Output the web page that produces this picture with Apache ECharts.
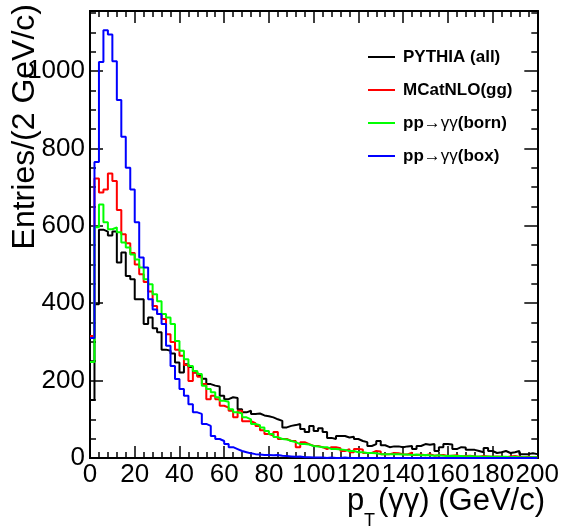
<!DOCTYPE html>
<html><head><meta charset="utf-8">
<script src="https://cdn.jsdelivr.net/npm/echarts/dist/echarts.min.js"></script>
<style>html,body{margin:0;padding:0;background:#fff}#c{width:562px;height:528px}</style>
</head><body><div id="c"></div>
<script>
// ---- data: 100 bins of 2 GeV/c from 0 to 200 ----
const binWidth = 2;
const xMin = 0, xMax = 200, yMax = 1155;
const seriesNames = ['PYTHIA (all)', 'MCatNLO(gg)', 'pp\u2192\u03b3\u03b3(born)', 'pp\u2192\u03b3\u03b3(box)'];
const seriesColors = ['#000000', '#ff0000', '#00ff00', '#0000ff'];
const xTickLabels = ['0','20','40','60','80','100','120','140','160','180','200'];
const yTickLabels = ['0','200','400','600','800','1000'];

const pythiaAll = [150,397,590,585,575,585,505,531,470,462,
  410,410,346,363,335,325,280,277,270,247,
  221,242,235,221,212,205,191,187,185,161,
  152,157,155,126,118,122,114,115,110,108,
  105,100,96,79,83,85,88,75,67,83,
  70,77,67,52,49,57,57,53,55,49,
  44,41,31,36,44,33,28,30,30,28,
  30,31,23,31,36,34,36,18,28,36,
  35,23,28,27,21,21,18,15,26,18,
  13,15,18,13,15,18,10,10,12,10];
const mcatnloGG = [315,722,686,694,735,716,641,578,555,530,
  500,475,455,430,393,372,359,320,300,280,
  264,240,199,221,210,191,152,161,152,135,
  130,122,105,122,95,95,90,83,72,62,
  58,67,49,49,44,44,28,41,36,31,
  31,28,23,28,28,25,18,23,15,23,
  22,13,13,18,17,10,10,13,12,10,
  9,14,8,9,7,10,6,7,8,5,
  6,7,4,5,6,4,3,5,4,3,
  4,3,2,4,5,3,2,3,2,2];
const ppBorn = [248,596,655,609,591,596,583,557,544,526,
  513,492,462,449,423,405,372,363,346,302,
  277,255,238,225,217,187,178,170,157,148,
  145,126,118,115,105,100,88,85,79,70,
  62,54,49,48,44,41,36,36,35,31,
  30,28,28,23,23,22,21,18,18,15,
  15,13,13,12,10,10,10,10,10,9,
  9,8,9,7,8,7,6,7,6,5,
  6,5,5,4,5,4,4,3,4,3,
  3,3,3,2,3,2,2,2,2,2];
const ppBox = [310,765,1023,1105,1094,1025,925,830,750,694,
  609,518,492,410,384,372,346,290,238,204,
  178,161,139,118,114,88,83,57,49,44,
  36,28,23,18,15,12,10,9,8,8,
  7,8,6,5,4,3,4,2,2,1,
  1,1,0,1,0,0,1,0,0,0,
  0,0,0,0,0,0,0,0,0,0,
  0,0,0,0,0,0,0,0,0,0,
  0,0,0,0,0,0,0,0,0,0,
  0,0,0,0,0,0,0,0,0,0];

const allValues = [pythiaAll, mcatnloGG, ppBorn, ppBox];

// histogram outline: point at each bin's lower edge, plus closing edge
function histData(vals) {
  const d = vals.map((v, i) => [xMin + i * binWidth, v]);
  d.push([xMin + vals.length * binWidth, vals[vals.length - 1]]);
  return d;
}

const FONT = '"Liberation Sans", Arial, Helvetica, sans-serif';
const black = '#000';

function xAx(pos, interval, len, labels) {
  return {
    type: 'value', min: xMin, max: xMax, interval: interval, position: pos,
    splitLine: {show: false},
    axisLine: {show: true, onZero: false, lineStyle: {color: black, width: 2}},
    axisTick: {show: true, inside: true, length: len, lineStyle: {color: black, width: 1.5}},
    axisLabel: labels ? {show: true, fontSize: 26, color: black, fontFamily: FONT, margin: 4,
      formatter: v => xTickLabels.indexOf(String(v)) >= 0 ? String(v) : ''} : {show: false}
  };
}
function yAx(pos, interval, len, labels) {
  return {
    type: 'value', min: 0, max: yMax, interval: interval, position: pos,
    splitLine: {show: false},
    axisLine: {show: true, onZero: false, lineStyle: {color: black, width: 2}},
    axisTick: {show: true, inside: true, length: len, lineStyle: {color: black, width: 1.5}},
    axisLabel: labels ? {show: true, fontSize: 26, color: black, fontFamily: FONT, margin: 5,
      formatter: v => yTickLabels.indexOf(String(v)) >= 0 ? String(v) : ''} : {show: false}
  };
}

const chart = echarts.init(document.getElementById('c'), null, {renderer: 'canvas'});
const option = {
  animation: false,
  backgroundColor: '#fff',
  grid: {left: 90, top: 11, width: 455, height: 447, containLabel: false},
  xAxis: [xAx('bottom', 20, 12, true), xAx('bottom', 4, 6, false), xAx('top', 20, 12, false), xAx('top', 4, 6, false)],
  yAxis: [yAx('left', 200, 13, true), yAx('left', 50, 6, false), yAx('right', 200, 13, false), yAx('right', 50, 6, false)],
  legend: {
    orient: 'vertical', left: 368, top: 47, padding: 0, itemWidth: 27, itemHeight: 2, itemGap: 13, icon: 'rect',
    data: seriesNames,
    textStyle: {fontFamily: FONT, fontSize: 17, fontWeight: 'bold', color: black, lineHeight: 20, padding: [0,0,0,3],
      rich: {s: {fontFamily: FONT, fontSize: 17, fontWeight: 'normal', color: black, lineHeight: 20}}},
    formatter: name => name.replace('\u2192\u03b3\u03b3', '{s|\u2192\u03b3\u03b3}')
  },
  series: allValues.map((vals, k) => ({
    name: seriesNames[k], type: 'line', step: 'end', symbol: 'none',
    xAxisIndex: 0, yAxisIndex: 0,
    data: histData(vals),
    lineStyle: {color: seriesColors[k], width: 2},
    itemStyle: {color: seriesColors[k]},
    z: 3 + k
  })),
  graphic: [
    {type: 'text', x: 25, y: 4, rotation: Math.PI / 2,
      style: {text: 'Entries/(2 GeV/c)', font: '32px ' + FONT, fill: black, textAlign: 'right', textVerticalAlign: 'middle'}},
    {type: 'text', x: 347, y: 501,
      style: {text: 'p', font: '31px ' + FONT, fill: black, textAlign: 'left', textVerticalAlign: 'middle'}},
    {type: 'text', x: 364, y: 521,
      style: {text: 'T', font: '18px ' + FONT, fill: black, textAlign: 'left', textVerticalAlign: 'middle'}},
    {type: 'text', x: 545, y: 501,
      style: {text: '(\u03b3\u03b3) (GeV/c)', font: '31px ' + FONT, fill: black, textAlign: 'right', textVerticalAlign: 'middle'}}
  ]
};
chart.setOption(option);
</script>
</body></html>
